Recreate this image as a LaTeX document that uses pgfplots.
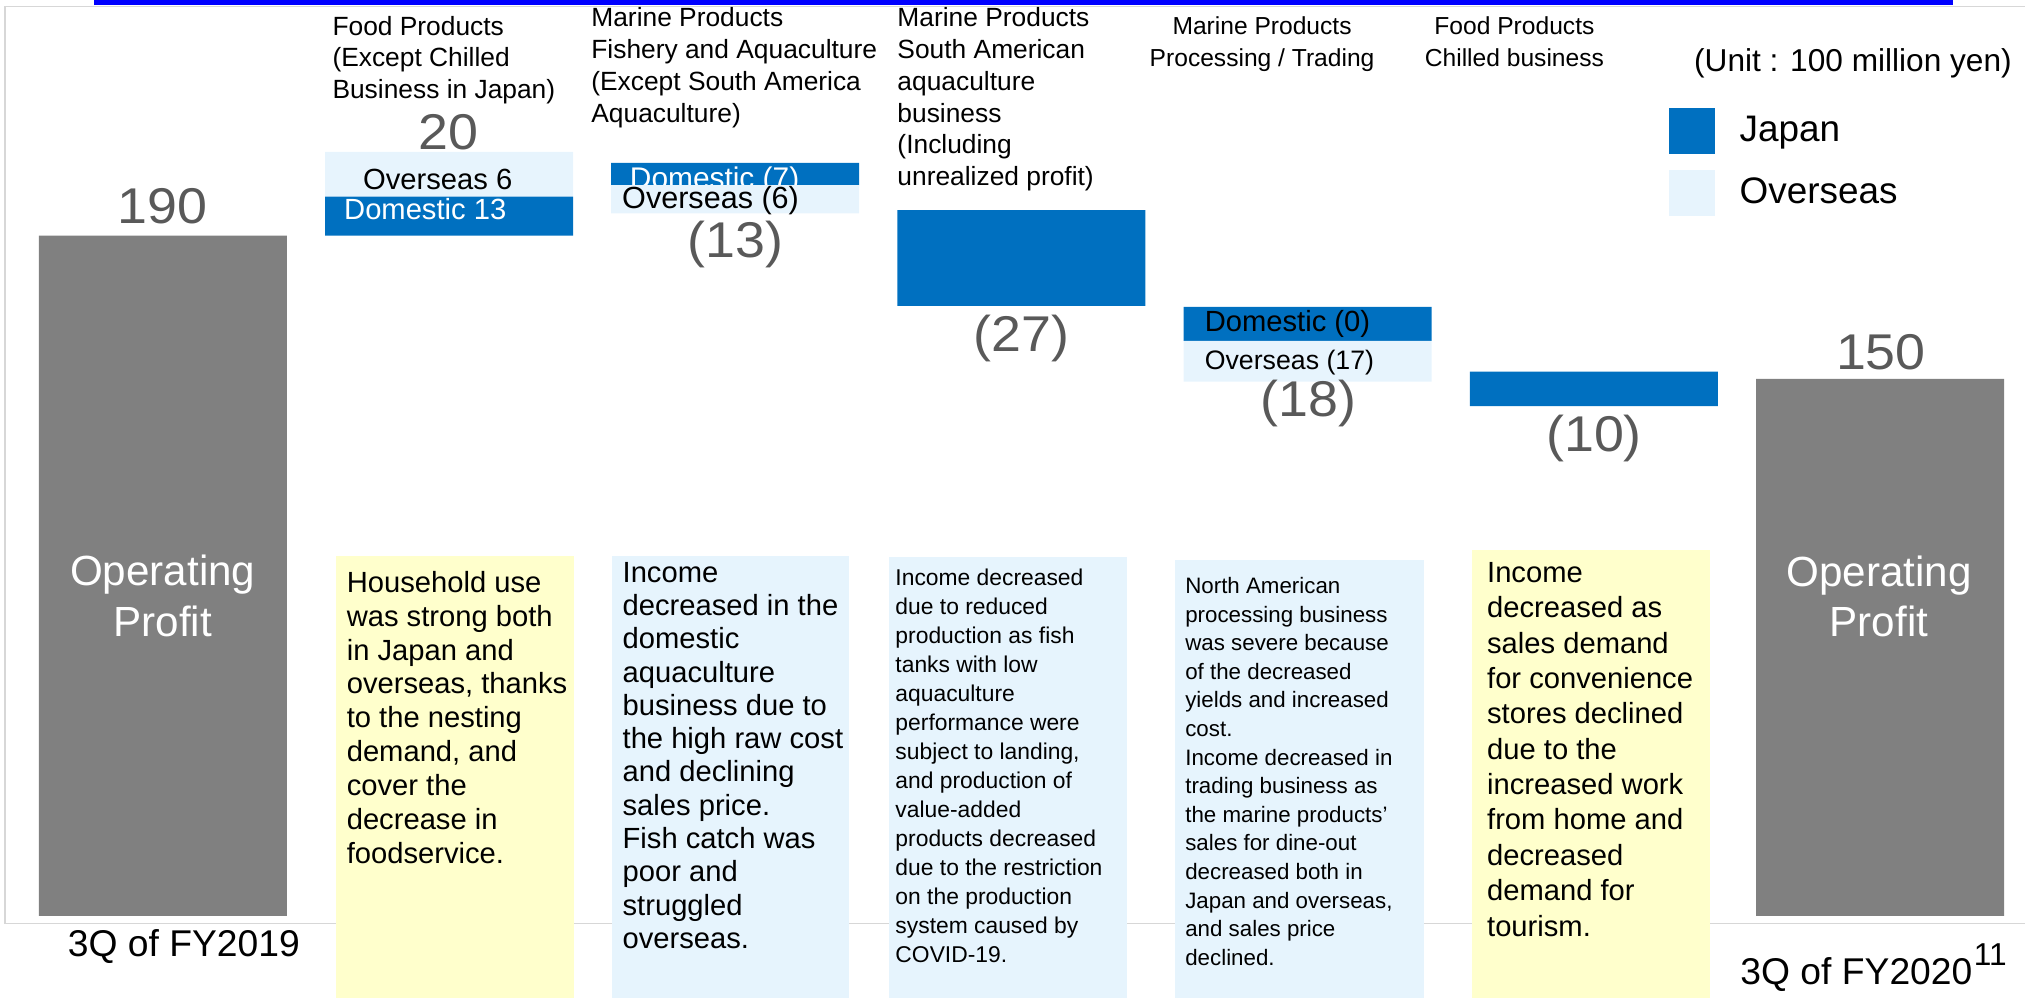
\documentclass[border=0pt]{standalone}
\usepackage{pgfplots}
\pgfplotsset{compat=1.18}
\usepackage{pgfplotstable}
\usepackage{fontspec}
\setmainfont{Liberation Sans}
\newfontfamily\numfont[FakeStretch=1.07]{Liberation Sans}
\definecolor{japan}{RGB}{0,112,192}
\definecolor{overseas}{RGB}{231,244,253}
\definecolor{opgray}{RGB}{128,128,128}
\definecolor{numgray}{RGB}{89,89,89}
\definecolor{noteyellow}{RGB}{255,255,204}
\definecolor{noteblue}{RGB}{230,244,253}
\definecolor{framegray}{RGB}{215,215,215}
\newcommand{\fs}[2]{\fontsize{#1}{#2}\selectfont}

% stacked waterfall: invisible offset, totals, Japan (lower), Overseas, Japan (upper)
\pgfplotstableread{
x offset total japanA overseas japanB
0 0     190 0    0    0
1 190   0   10.9 12.5 0
2 196.2 0   0    7.9  6.2
3 170.4 0   26.7 0    0
4 149.2 0   0    11.4 9.5
5 142.4 0   9.6  0    0
6 0     150 0    0    0
}\wf

\begin{document}
\begin{tikzpicture}
\path[use as bounding box] (0,0) rectangle (20.26cm,-9.99cm);
\begin{scope}[x=0.01cm,y=-0.01cm]
  \draw[framegray, line width=0.5pt] (2026,6.5) -- (5,6.5) -- (5,924) -- (2026,924);
  \fill[blue] (94,0) rectangle (1954,5.5);
\end{scope}

\begin{axis}[at={(0,0)}, anchor=north west, scale only axis,
  width=20.26cm, height=9.99cm,
  xmin=-0.5688, xmax=6.510, ymin=-23.18, ymax=255.8,
  hide axis, clip=false,
  ybar stacked, bar width=0.8665,
  legend cell align=left,
  legend style={at={(rel axis cs:0.8236,0.8919)}, anchor=north west,
    draw=none, fill=none, inner sep=0pt, outer sep=0pt,
    row sep=0.16cm, column sep=0.25cm, font=\fs{10.5}{12},
    nodes={inner sep=0pt}},
]
\addplot[draw=none, fill=none, forget plot] table[x=x,y=offset]{\wf};
\addplot[draw=none, fill=opgray, forget plot] table[x=x,y=total]{\wf};
\addplot[draw=none, fill=japan,
  legend image code/.code={\fill[japan] (0cm,-0.23cm) rectangle (0.46cm,0.23cm);}]
  table[x=x,y=japanA]{\wf};
\addlegendentry{Japan}
\addplot[draw=none, fill=overseas,
  legend image code/.code={\fill[overseas] (0cm,-0.23cm) rectangle (0.46cm,0.23cm);}]
  table[x=x,y=overseas]{\wf};
\addlegendentry{Overseas}
\addplot[draw=none, fill=japan, forget plot] table[x=x,y=japanB]{\wf};
\end{axis}

\begin{scope}[x=0.01cm,y=-0.01cm, every node/.style={inner sep=0pt, outer sep=0pt}]
  % note boxes
  \fill[noteyellow] (336,556) rectangle (574,999);
  \fill[noteblue] (612,556) rectangle (849.5,999);
  \fill[noteblue] (890,557) rectangle (1128,999);
  \fill[noteblue] (1176,560) rectangle (1424.5,999);
  \fill[noteyellow] (1473,550) rectangle (1711,999);

  % box texts
  \foreach \t [count=\i from 0] in {{Household use}, {was strong both}, {in Japan and}, {overseas, thanks}, {to the nesting}, {demand, and}, {cover the}, {decrease in}, {foodservice.}}
    {\node[anchor=base west, font=\fs{8.3}{10}] at (347,{592.6+\i*33.9}) {\t};}
  \foreach \t [count=\i from 0] in {{Income}, {decreased in the}, {domestic}, {aquaculture}, {business due to}, {the high raw cost}, {and declining}, {sales price.}, {Fish catch was}, {poor and}, {struggled}, {overseas.}}
    {\node[anchor=base west, font=\fs{8.3}{10}] at (623,{582.6+\i*33.3}) {\t};}
  \foreach \t [count=\i from 0] in {{Income decreased}, {due to reduced}, {production as fish}, {tanks with low}, {aquaculture}, {performance were}, {subject to landing,}, {and production of}, {value-added}, {products decreased}, {due to the restriction}, {on the production}, {system caused by}, {COVID-19.}}
    {\node[anchor=base west, font=\fs{6.5}{8}] at (896,{585.8+\i*29}) {\t};}
  \foreach \t [count=\i from 0] in {{North American}, {processing business}, {was severe because}, {of the decreased}, {yields and increased}, {cost.}, {Income decreased in}, {trading business as}, {the marine products’}, {sales for dine-out}, {decreased both in}, {Japan and overseas,}, {and sales price}, {declined.}}
    {\node[anchor=base west, font=\fs{6.35}{8}] at (1186,{594+\i*28.6}) {\t};}
  \foreach \t [count=\i from 0] in {{Income}, {decreased as}, {sales demand}, {for convenience}, {stores declined}, {due to the}, {increased work}, {from home and}, {decreased}, {demand for}, {tourism.}}
    {\node[anchor=base west, font=\fs{8.3}{10}] at (1488,{582.6+\i*35.4}) {\t};}

  % headers
  \foreach \t [count=\i from 0] in {{Food Products}, {(Except Chilled}, {Business in Japan)}}
    {\node[anchor=base west, font=\fs{7.5}{9}] at (332.7,{35.2+\i*31.7}) {\t};}
  \foreach \t [count=\i from 0] in {{Marine Products}, {Fishery and Aquaculture}, {(Except South America}, {Aquaculture)}}
    {\node[anchor=base west, font=\fs{7.5}{9}] at (591.7,{27+\i*31.7}) {\t};}
  \foreach \t [count=\i from 0] in {{Marine Products}, {South American}, {aquaculture}, {business}, {(Including}, {unrealized profit)}}
    {\node[anchor=base west, font=\fs{7.5}{9}] at (898,{27+\i*31.7}) {\t};}
  \node[anchor=base, font=\fs{7}{9}] at (1262.8,34.8) {Marine Products};
  \node[anchor=base, font=\fs{7}{9}] at (1262.8,66.5) {Processing / Trading};
  \node[anchor=base, font=\fs{7}{9}] at (1515.3,34.8) {Food Products};
  \node[anchor=base, font=\fs{7}{9}] at (1515.3,66.5) {Chilled business};
  \node[anchor=base, font=\fs{9}{11}] at (1854,71.7) {(Unit : 100 million yen)};

  % value labels
  \begin{scope}[every node/.append style={anchor=base, font=\numfont\fs{14.3}{16}, text=numgray}]
    \node at (162.8,223.5) {190};
    \node at (449,150) {20};
    \node at (736,258) {(13)};
    \node at (1022,352) {(27)};
    \node at (1309,417) {(18)};
    \node at (1595,452) {(10)};
    \node at (1882,370) {150};
  \end{scope}

  % segment labels
  \node[anchor=base, font=\fs{8.3}{10}] at (438,190) {Overseas 6};
  \node[anchor=base, font=\fs{8.3}{10}, text=white] at (425.5,220) {Domestic 13};
  \begin{scope}
    \clip (611.7,162.7) rectangle (858.3,185);
    \node[anchor=base, font=\fs{8.5}{10}, text=white] at (715,188.3) {Domestic (7)};
  \end{scope}
  \node[anchor=base, font=\fs{8.7}{10}] at (711,208.3) {Overseas (6)};
  \node[anchor=base west, font=\fs{8.3}{10}] at (1205.5,331.7) {Domestic (0)};
  \node[anchor=base west, font=\fs{7.6}{10}] at (1205.5,370) {Overseas (17)};

  % total bar labels
  \node[anchor=base, font=\fs{12}{14}, text=white] at (162.8,586) {Operating};
  \node[anchor=base, font=\fs{12}{14}, text=white] at (162.8,637) {Profit};
  \node[anchor=base, font=\fs{12}{14}, text=white] at (1880,587) {Operating};
  \node[anchor=base, font=\fs{12}{14}, text=white] at (1880,637) {Profit};

  % category labels at the bottom
  \node[anchor=base, font=\fs{10.6}{12}] at (184,957) {3Q of FY2019};
  \node[anchor=base, font=\fs{10.6}{12}] at (1857.5,985) {3Q of FY2020};
  \node[anchor=base west, font=\fs{9}{11}] at (1975,966) {11};
\end{scope}
\end{tikzpicture}
\end{document}
